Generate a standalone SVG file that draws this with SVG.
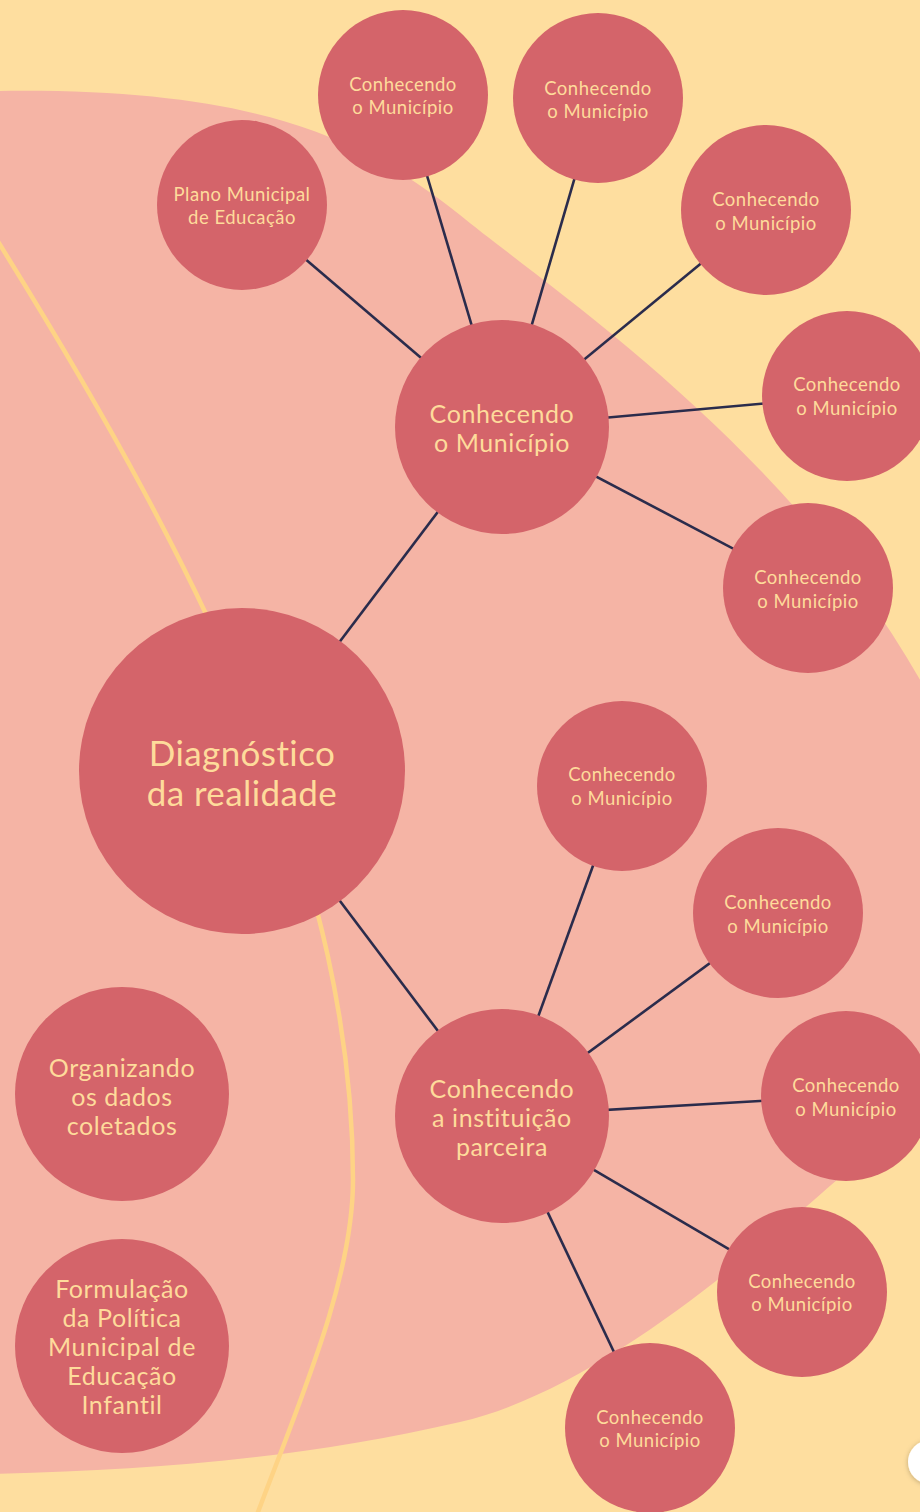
<svg xmlns="http://www.w3.org/2000/svg" width="920" height="1512" viewBox="0 0 920 1512">
<defs>
<style>
.bg{fill:#FEDE9F}
.blob{fill:#F5B4A5}
.arc{fill:none;stroke:#FED385;stroke-width:4.5}
.node{fill:#D4646A}
.edge{stroke:#2B2C4C;stroke-width:2.6;fill:none}
text{font-family:"Lato","Open Sans",sans-serif;fill:#FEDB9B;text-anchor:middle;font-variant-ligatures:none}
.s{font-size:18.5px;letter-spacing:0.5px}
.m{font-size:25px;letter-spacing:0.6px}
.l{font-size:35px;letter-spacing:0.4px}
</style>
<filter id="sh" x="-50%" y="-50%" width="200%" height="200%">
<feDropShadow dx="0" dy="1" stdDeviation="2.5" flood-color="#000" flood-opacity="0.25"/>
</filter>
</defs>
<rect class="bg" x="0" y="0" width="920" height="1512"/>
<path class="blob" d="M -10,91 L 0,91 C 250,88 360,135 460,215 C 560,297 840,480 960,760 C 1030,920 1010,1030 900,1125 C 800,1210 620,1385 460,1422 C 300,1459 150,1470 -10,1474 Z"/>
<path class="arc" d="M -3,240 C 212,585 353,880 353,1180 C 353,1280 300,1400 255,1520"/>
<g id="connectors">
<line class="edge" x1="502" y1="427" x2="242" y2="205"/>
<line class="edge" x1="502" y1="427" x2="403" y2="95"/>
<line class="edge" x1="502" y1="427" x2="598" y2="98"/>
<line class="edge" x1="502" y1="427" x2="766" y2="210"/>
<line class="edge" x1="502" y1="427" x2="847" y2="396"/>
<line class="edge" x1="502" y1="427" x2="808" y2="588"/>
<line class="edge" x1="502" y1="427" x2="242" y2="771"/>
<line class="edge" x1="242" y1="771" x2="502" y2="1116"/>
<line class="edge" x1="502" y1="1116" x2="622" y2="786"/>
<line class="edge" x1="502" y1="1116" x2="778" y2="913"/>
<line class="edge" x1="502" y1="1116" x2="846" y2="1096"/>
<line class="edge" x1="502" y1="1116" x2="802" y2="1292"/>
<line class="edge" x1="502" y1="1116" x2="650" y2="1428"/>
</g>
<g id="n-plano"><circle class="node" cx="242" cy="205" r="85"/><text class="s" x="242" y="201">Plano Municipal</text><text class="s" x="242" y="224">de Educação</text></g>
<g id="n-top1"><circle class="node" cx="403" cy="95" r="85"/><text class="s" x="403" y="91">Conhecendo</text><text class="s" x="403" y="114">o Município</text></g>
<g id="n-top2"><circle class="node" cx="598" cy="98" r="85"/><text class="s" x="598" y="94.5">Conhecendo</text><text class="s" x="598" y="118">o Município</text></g>
<g id="n-top3"><circle class="node" cx="766" cy="210" r="85"/><text class="s" x="766" y="206">Conhecendo</text><text class="s" x="766" y="229.5">o Município</text></g>
<g id="n-right4"><circle class="node" cx="847" cy="396" r="85"/><text class="s" x="847" y="391">Conhecendo</text><text class="s" x="847" y="414.5">o Município</text></g>
<g id="n-right5"><circle class="node" cx="808" cy="588" r="85"/><text class="s" x="808" y="584">Conhecendo</text><text class="s" x="808" y="607.5">o Município</text></g>
<g id="n-hub1"><circle class="node" cx="502" cy="427" r="107"/><text class="m" x="502" y="423">Conhecendo</text><text class="m" x="502" y="452">o Município</text></g>
<g id="n-diag"><circle class="node" cx="242" cy="771" r="163"/><text class="l" x="242" y="766">Diagnóstico</text><text class="l" x="242" y="806">da realidade</text></g>
<g id="n-low1"><circle class="node" cx="622" cy="786" r="85"/><text class="s" x="622" y="781">Conhecendo</text><text class="s" x="622" y="804.5">o Município</text></g>
<g id="n-low2"><circle class="node" cx="778" cy="913" r="85"/><text class="s" x="778" y="909">Conhecendo</text><text class="s" x="778" y="932.5">o Município</text></g>
<g id="n-low3"><circle class="node" cx="846" cy="1096" r="85"/><text class="s" x="846" y="1092">Conhecendo</text><text class="s" x="846" y="1115.5">o Município</text></g>
<g id="n-low4"><circle class="node" cx="802" cy="1292" r="85"/><text class="s" x="802" y="1287.5">Conhecendo</text><text class="s" x="802" y="1311">o Município</text></g>
<g id="n-low5"><circle class="node" cx="650" cy="1428" r="85"/><text class="s" x="650" y="1423.5">Conhecendo</text><text class="s" x="650" y="1447">o Município</text></g>
<g id="n-hub2"><circle class="node" cx="502" cy="1116" r="107"/><text class="m" x="502" y="1098">Conhecendo</text><text class="m" x="502" y="1127">a instituição</text><text class="m" x="502" y="1156">parceira</text></g>
<g id="n-org"><circle class="node" cx="122" cy="1094" r="107"/><text class="m" x="122" y="1077">Organizando</text><text class="m" x="122" y="1106">os dados</text><text class="m" x="122" y="1135">coletados</text></g>
<g id="n-form"><circle class="node" cx="122" cy="1346" r="107"/><text class="m" x="122" y="1298">Formulação</text><text class="m" x="122" y="1327">da Política</text><text class="m" x="122" y="1356">Municipal de</text><text class="m" x="122" y="1385">Educação</text><text class="m" x="122" y="1414">Infantil</text></g>
<circle cx="930" cy="1462" r="22" fill="#FFFFFF" filter="url(#sh)"/>
</svg>
